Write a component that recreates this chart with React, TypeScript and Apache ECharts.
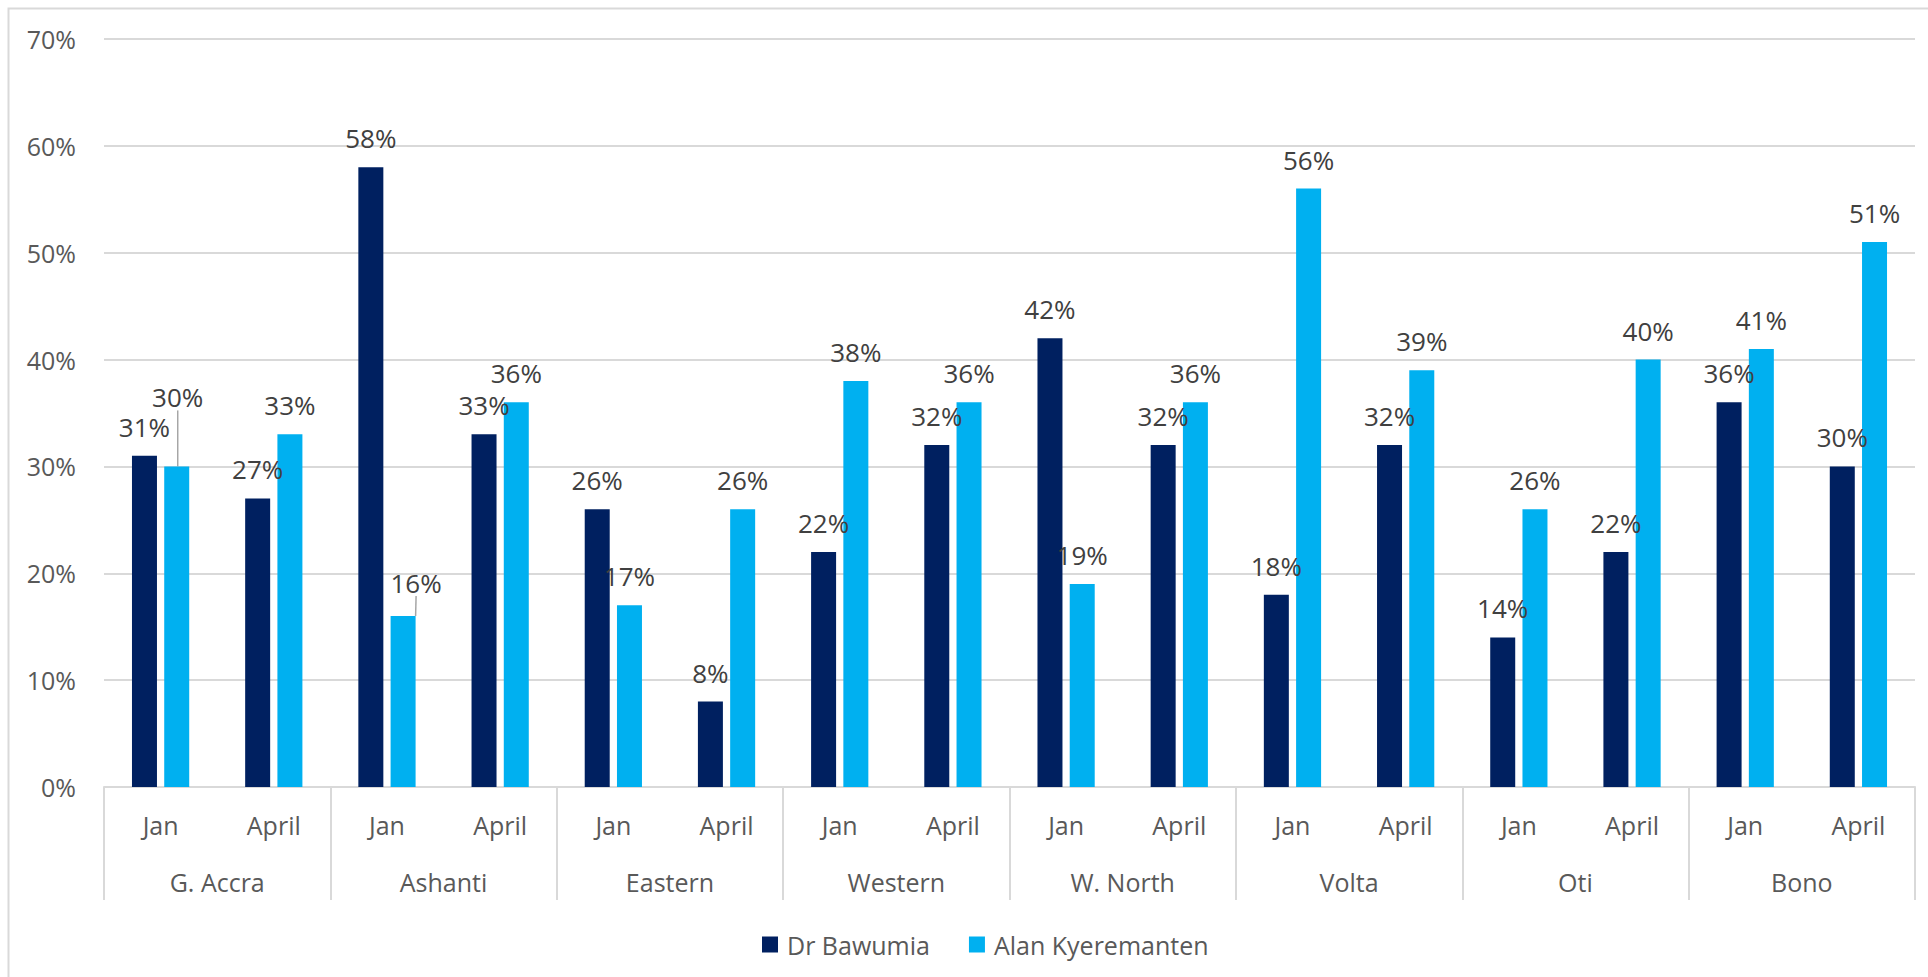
import React, { useEffect, useRef } from "react";
import * as echarts from "echarts";

const months = ["Jan", "April", "Jan", "April", "Jan", "April", "Jan", "April", "Jan", "April", "Jan", "April", "Jan", "April", "Jan", "April"];
const regions = ["G. Accra", "Ashanti", "Eastern", "Western", "W. North", "Volta", "Oti", "Bono"];
const bawumia = [31, 27, 58, 33, 26, 8, 22, 32, 42, 32, 18, 32, 14, 22, 36, 30];
const kyeremanten = [30, 33, 16, 36, 17, 26, 38, 36, 19, 36, 56, 39, 26, 40, 41, 51];
const yTicks = [0, 10, 20, 30, 40, 50, 60, 70];

const FONT = "Open Sans";
const AXIS_COLOR = "#595959";
const LABEL_COLOR = "#404040";
const GRID_COLOR = "#d9d9d9";

// labels that the reference moves away from their bar (with a leader line)
const movedLabels: Record<number, { dx: number; dy: number }> = {
  0: { dx: 1, dy: -40 },
  2: { dx: 13, dy: -4 },
};

export default function App() {
  const ref = useRef<HTMLDivElement>(null);
  useEffect(() => {
    if (!ref.current) return;
    const chart = echarts.init(ref.current, null, { renderer: "svg" });
    const labelStyle = {
      show: true,
      position: "top",
      distance: 16,
      formatter: "{c}%",
      color: LABEL_COLOR,
      fontSize: 26,
      fontFamily: FONT,
    };
    const lightData = kyeremanten.map((v, i) =>
      movedLabels[i]
        ? { value: v, labelLine: { show: true, lineStyle: { color: "#a6a6a6", width: 1.5 } } }
        : { value: v, labelLine: { show: false } }
    );
    chart.setOption({
      animation: false,
      backgroundColor: "#ffffff",
      textStyle: { fontFamily: FONT },
      grid: { left: 104, right: 13, top: 39, bottom: 190, containLabel: false },
      legend: {
        left: 757,
        top: 927,
        itemWidth: 16,
        itemHeight: 16,
        itemGap: 39,
        icon: "rect",
        textStyle: { color: AXIS_COLOR, fontSize: 25, fontFamily: FONT, padding: [0, 0, 0, 4] },
        data: ["Dr Bawumia", "Alan Kyeremanten"],
      },
      xAxis: [
        {
          type: "category",
          data: months,
          position: "bottom",
          axisLine: { show: true, lineStyle: { color: GRID_COLOR, width: 2 } },
          axisTick: { show: false },
          axisLabel: { interval: 0, margin: 25, color: AXIS_COLOR, fontSize: 25, fontFamily: FONT },
        },
        {
          type: "category",
          data: regions,
          position: "bottom",
          offset: 0,
          axisLine: { show: false },
          axisTick: { show: true, interval: 0, length: 113, lineStyle: { color: GRID_COLOR, width: 2 } },
          axisLabel: { interval: 0, margin: 82, color: AXIS_COLOR, fontSize: 25, fontFamily: FONT },
        },
      ],
      yAxis: {
        type: "value",
        min: yTicks[0],
        max: yTicks[yTicks.length - 1],
        interval: 10,
        axisLine: { show: false },
        axisTick: { show: false },
        splitLine: { show: true, lineStyle: { color: GRID_COLOR, width: 2 } },
        axisLabel: { formatter: "{value}%", margin: 28, color: AXIS_COLOR, fontSize: 25, fontFamily: FONT },
      },
      series: [
        {
          name: "Dr Bawumia",
          type: "bar",
          xAxisIndex: 0,
          data: bawumia,
          barWidth: 25,
          barGap: "29%",
          itemStyle: { color: "#002060" },
          label: labelStyle,
        },
        {
          name: "Alan Kyeremanten",
          type: "bar",
          xAxisIndex: 0,
          data: lightData,
          barWidth: 25,
          barGap: "29%",
          itemStyle: { color: "#00B0F0" },
          label: labelStyle,
          labelLayout: (p: any) => {
            const m = movedLabels[p.dataIndex];
            return m ? { dx: m.dx, dy: m.dy } : {};
          },
        },
      ],
      graphic: [
        {
          type: "polyline",
          shape: { points: [[8.5, 977], [8.5, 8.5], [1928, 8.5]] },
          style: { stroke: GRID_COLOR, lineWidth: 2, fill: "none" },
          silent: true,
        },
      ],
    });
    return () => chart.dispose();
  }, []);
  return (
    <div
      ref={ref}
      style={{ position: "fixed", left: 0, top: 0, width: "1928px", height: "977px" }}
    />
  );
}
